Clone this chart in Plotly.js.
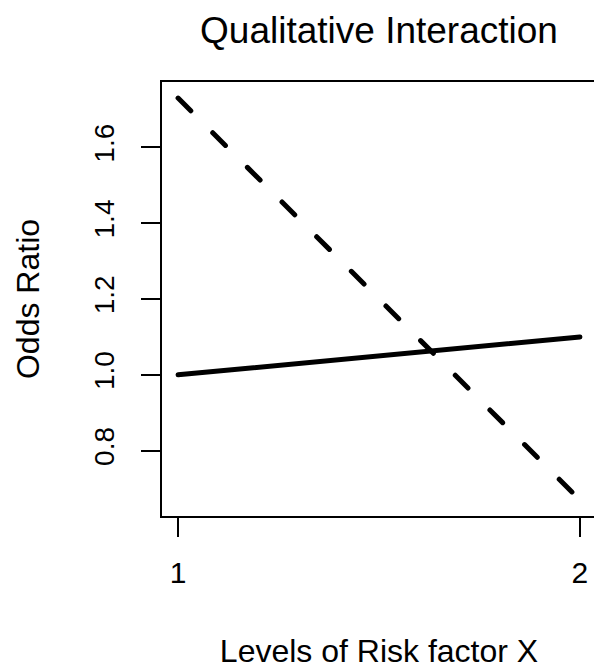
<!DOCTYPE html>
<html>
<head>
<meta charset="utf-8">
<script src="https://cdn.plot.ly/plotly-3.0.1.min.js"></script>
<style>
html,body{margin:0;padding:0;overflow:hidden;background:#fff;}
#chart{width:597px;height:669px;}
#chart path.js-line{stroke-linecap:round;}
</style>
</head>
<body>
<div id="chart"></div>
<script>
// Data
const levels = [1, 2];
const solidOR = [1.0, 1.1];    // solid line
const dashedOR = [1.73, 0.67]; // dashed line
const xTickVals = [1, 2];
const xTickText = ["1", "2"];
const yTickVals = [0.8, 1.0, 1.2, 1.4, 1.6];
const yTickText = ["0.8", "1.0", "1.2", "1.4", "1.6"];

const font = "Liberation Sans, Arial, Helvetica, sans-serif";

const traces = [
  {x: levels, y: solidOR, mode: "lines", type: "scatter",
   line: {color: "#000", width: 5}, hoverinfo: "skip", showlegend: false},
  {x: levels, y: dashedOR, mode: "lines", type: "scatter",
   line: {color: "#000", width: 5, dash: "18px,31px"}, hoverinfo: "skip", showlegend: false}
];

const layout = {
  width: 597, height: 669,
  margin: {l: 162, r: 1, t: 82, b: 153, pad: 0},
  paper_bgcolor: "#fff", plot_bgcolor: "#fff",
  font: {family: font, color: "#000", size: 30},
  title: {text: "Qualitative Interaction", font: {size: 37, family: font, color: "#000"},
          x: 379/597, xanchor: "center", xref: "container", y: 1 - 30/669, yanchor: "middle", yref: "container"},
  xaxis: {
    range: [0.96, 2.04], tickvals: xTickVals, ticktext: xTickText,
    showgrid: false, zeroline: false, showline: true, mirror: true,
    linecolor: "#000", linewidth: 2, ticks: "outside", ticklen: 19, tickwidth: 2, tickcolor: "#000",
    tickfont: {size: 30}, ticklabelstandoff: 10,
    title: {text: "Levels of Risk factor X", font: {size: 32}, standoff: 66}
  },
  yaxis: {
    range: [0.6276, 1.7724], tickvals: yTickVals, ticktext: yTickText, tickangle: -90,
    showgrid: false, zeroline: false, showline: true, mirror: true,
    linecolor: "#000", linewidth: 2, ticks: "outside", ticklen: 19, tickwidth: 2, tickcolor: "#000",
    tickfont: {size: 28}, ticklabelstandoff: 16,
    title: {text: "Odds Ratio", font: {size: 32}, standoff: 40}
  }
};

Plotly.newPlot("chart", traces, layout, {displayModeBar: false, staticPlot: true});
</script>
</body>
</html>
